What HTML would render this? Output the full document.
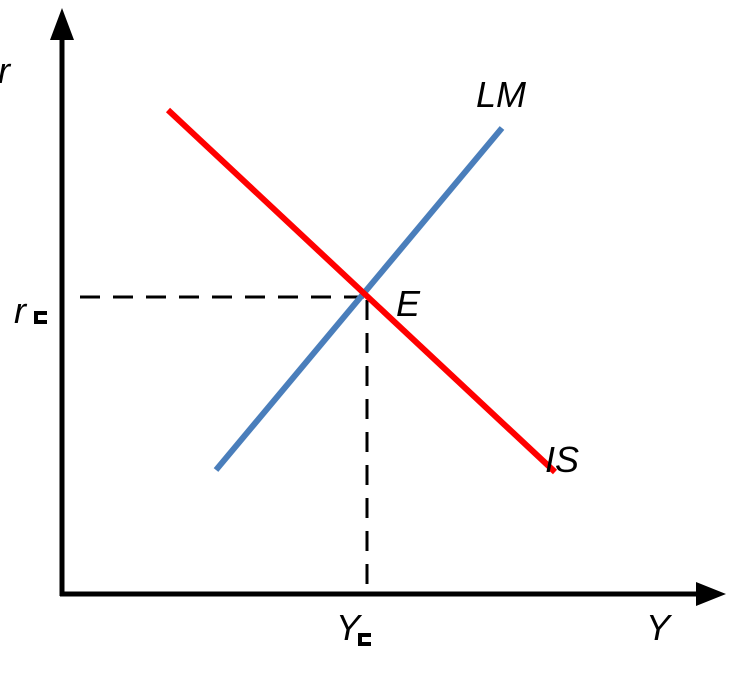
<!DOCTYPE html>
<html><head><style>
html,body{margin:0;padding:0;background:#fff;}
svg{display:block;}
text{font-family:"Liberation Sans",sans-serif;font-size:36px;fill:#000;font-style:italic;}
</style></head><body>
<svg width="746" height="676" viewBox="0 0 746 676" xmlns="http://www.w3.org/2000/svg">
<line x1="62" y1="30" x2="62" y2="596" stroke="#000" stroke-width="5"/>
<polygon points="62,8 50,40 74,40" fill="#000"/>
<line x1="60" y1="594" x2="705" y2="594" stroke="#000" stroke-width="5"/>
<polygon points="726,594 696,582 696,606" fill="#000"/>
<line x1="80" y1="297" x2="367" y2="297" stroke="#000" stroke-width="3" stroke-dasharray="20,13"/>
<line x1="367" y1="300" x2="367" y2="586" stroke="#000" stroke-width="3" stroke-dasharray="20,13"/>
<line x1="216" y1="470" x2="502" y2="128" stroke="#4a7ebb" stroke-width="6"/>
<line x1="168" y1="110" x2="555" y2="472" stroke="#ff0000" stroke-width="6"/>
<text x="-2" y="83">r</text>
<text x="476" y="107">LM</text>
<text x="396" y="316">E</text>
<text x="14" y="323">r</text>
<rect x="34" y="311" width="13" height="13" fill="#000"/><rect x="38" y="315" width="9" height="5" fill="#fff"/>
<text x="545" y="472">IS</text>
<text x="336" y="640">Y</text>
<rect x="358" y="633" width="13" height="13" fill="#000"/><rect x="362" y="637" width="9" height="5" fill="#fff"/>
<text x="646" y="640">Y</text>
</svg>
</body></html>
